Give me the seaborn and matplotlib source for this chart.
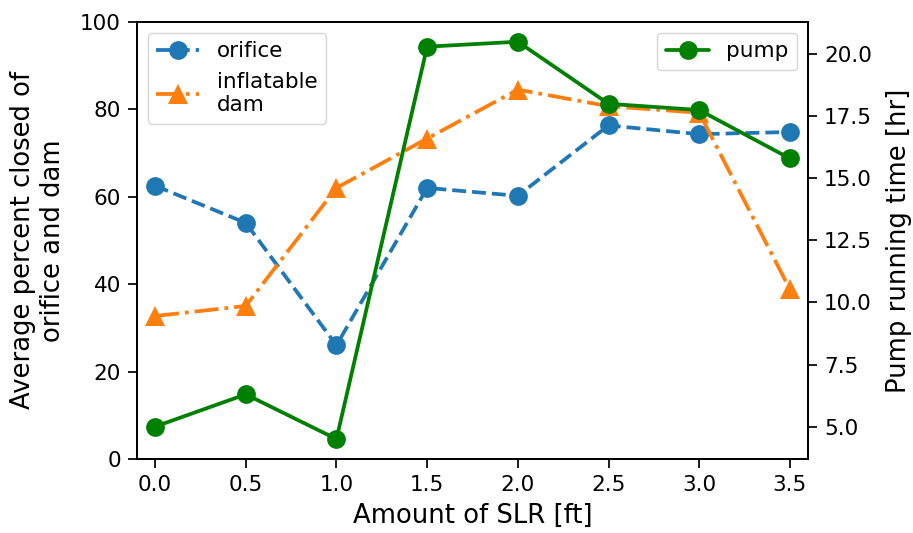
import matplotlib
matplotlib.use("Agg")
import matplotlib.pyplot as plt
import seaborn as sns
import pandas as pd

# Sea level rise scenarios [ft]
slr = [0.0, 0.5, 1.0, 1.5, 2.0, 2.5, 3.0, 3.5]
# Average percent closed
orifice = [62.5, 54.0, 26.0, 62.0, 60.2, 76.3, 74.3, 74.8]
dam = [32.7, 35.0, 62.0, 73.3, 84.5, 80.7, 79.2, 38.8]
# Pump running time [hr]
pump = [5.0, 6.3, 4.5, 20.3, 20.5, 18.0, 17.75, 15.8]

sns.set_style("white")
plt.rcParams["font.family"] = ["DejaVu Sans"]
plt.rcParams["text.color"] = "black"
plt.rcParams["axes.labelcolor"] = "black"
plt.rcParams["xtick.color"] = "black"
plt.rcParams["ytick.color"] = "black"
plt.rcParams["axes.edgecolor"] = "black"

df = pd.DataFrame({"slr": slr, "orifice": orifice, "dam": dam, "pump": pump})

fig = plt.figure(figsize=(9.13, 5.33), dpi=100)
ax = fig.add_axes([0.150, 0.139, 0.735, 0.820])
ax2 = ax.twinx()

lw = 2.7
ms = 13.5
sns.lineplot(data=df, x="slr", y="orifice", ax=ax, color="#1f77b4", linestyle="--",
             marker="o", markersize=ms, markeredgewidth=0, linewidth=lw, label="orifice")
sns.lineplot(data=df, x="slr", y="dam", ax=ax, color="#ff7f0e", linestyle="-.",
             marker="^", markersize=ms + 1, markeredgewidth=0, linewidth=lw,
             label="inflatable\ndam")
sns.lineplot(data=df, x="slr", y="pump", ax=ax2, color="green", linestyle="-",
             marker="o", markersize=ms, markeredgewidth=0, linewidth=lw, label="pump")

ax.set_xlim(-0.1, 3.6)
ax.set_ylim(0, 100)
ax.set_xticks(slr)
ax.set_xticklabels([f"{v:.1f}" for v in slr])
ax2.set_yticks([5.0, 7.5, 10.0, 12.5, 15.0, 17.5, 20.0])
ax2.set_yticklabels(["5.0", "7.5", "10.0", "12.5", "15.0", "17.5", "20.0"])

for a in (ax, ax2):
    a.tick_params(axis="both", labelsize=15.5, length=6.5, width=1.25, pad=5,
                  direction="out", left=(a is ax), right=(a is ax2), bottom=True,
                  colors="black")
    for s in a.spines.values():
        s.set_linewidth(1.3)
        s.set_color("black")

ax.set_xlabel("Amount of SLR [ft]", fontsize=18.6, labelpad=6)
ax.set_ylabel("Average percent closed of\norifice and dam", fontsize=18.6, labelpad=10)
ax2.set_ylabel("Pump running time [hr]", fontsize=18.6, labelpad=10)

ax.legend(loc="upper left", fontsize=15.5, frameon=True)
ax2.legend(loc="upper right", fontsize=15.5, frameon=True)

fig.savefig("out.png", dpi=100)
